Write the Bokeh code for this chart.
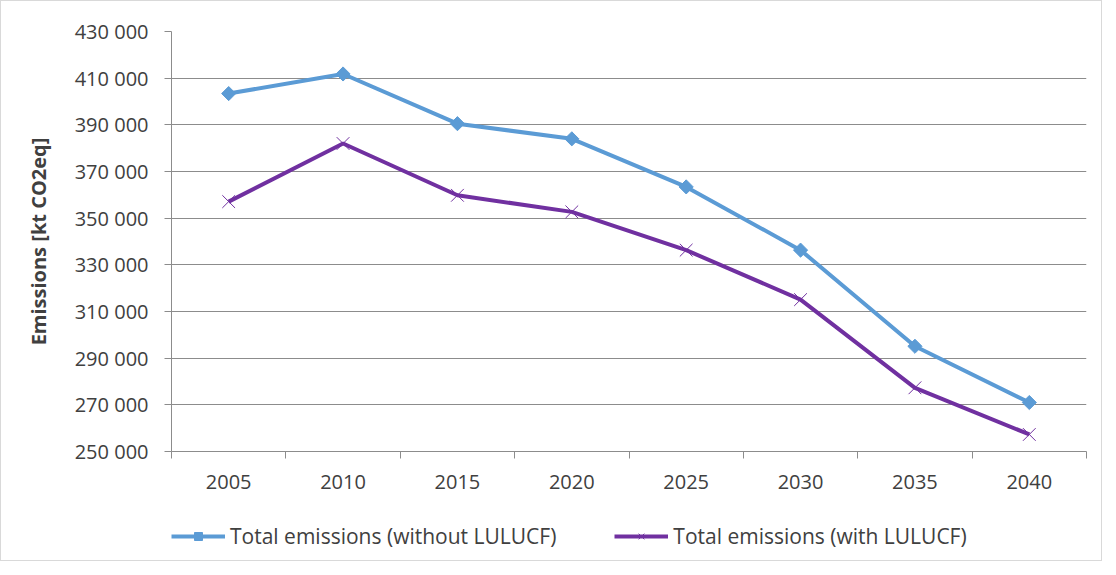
from bokeh.plotting import figure
from bokeh.layouts import column
from bokeh.models import Range1d, FixedTicker, Legend, LegendItem
from bokeh.embed import file_html
from bokeh.resources import INLINE
import math

years = [2005, 2010, 2015, 2020, 2025, 2030, 2035, 2040]
without_lulucf = [403400, 411800, 390500, 384000, 363400, 336300, 295100, 271000]
with_lulucf = [357100, 382000, 359800, 352700, 336300, 315100, 277300, 257300]
y_ticks = [250000, 270000, 290000, 310000, 330000, 350000, 370000, 390000, 410000, 430000]
y_tick_labels = ["250 000", "270 000", "290 000", "310 000", "330 000",
                 "350 000", "370 000", "390 000", "410 000", "430 000"]
series_names = ["Total emissions (without LULUCF)", "Total emissions (with LULUCF)"]
y_title = "Emissions [kt CO2eq]"

BLUE = "#5B9BD5"
PURPLE = "#7030A0"
GRID = "#8c8c8c"
TEXT = "#404040"
FONT = "Open Sans"

p = figure(width=1100, height=500, output_backend="svg", toolbar_location=None,
           x_range=Range1d(2002.5, 2042.5), y_range=Range1d(250000, 430000),
           min_border_left=170, min_border_right=15, min_border_top=30, min_border_bottom=50)
p.outline_line_color = None
p.background_fill_color = "white"
p.border_fill_color = "white"

# axes
xa = p.xaxis[0]
xa.ticker = FixedTicker(ticks=years, minor_ticks=[y - 2.5 for y in years] + [years[-1] + 2.5])
xa.major_label_overrides = {y: str(y) for y in years}
xa.major_tick_out = 0
xa.major_tick_in = 0
xa.minor_tick_out = 7
xa.minor_tick_in = 0
xa.minor_tick_line_color = GRID
xa.axis_line_color = GRID
xa.major_label_text_font = FONT
xa.major_label_text_font_size = "20px"
xa.major_label_text_color = TEXT
xa.major_label_standoff = 16

ya = p.yaxis[0]
ya.ticker = FixedTicker(ticks=y_ticks)
ya.major_label_overrides = {t: l for t, l in zip(y_ticks, y_tick_labels)}
ya.major_tick_out = 7
ya.major_tick_in = 0
ya.major_tick_line_color = GRID
ya.minor_tick_line_color = None
ya.axis_line_color = GRID
ya.major_label_text_font = FONT
ya.major_label_text_font_size = "20px"
ya.major_label_text_color = TEXT
ya.major_label_standoff = 16
ya.axis_label = y_title
ya.axis_label_text_font = FONT
ya.axis_label_text_font_size = "20px"
ya.axis_label_text_font_style = "bold"
ya.axis_label_text_color = TEXT
ya.axis_label_standoff = 20

p.xgrid.grid_line_color = None
p.ygrid.grid_line_color = GRID
p.ygrid.grid_line_width = 1

# series
p.line(years, without_lulucf, line_color=BLUE, line_width=4)
p.scatter(years, without_lulucf, marker="square", angle=math.pi / 4, size=10,
          fill_color=BLUE, line_color=BLUE)
p.line(years, with_lulucf, line_color=PURPLE, line_width=4)
p.scatter(years, with_lulucf, marker="x", size=18, line_color=PURPLE, line_width=1)

# legend strip (separate figure so the legend can sit below the axis labels)
lg = figure(width=1100, height=59, output_backend="svg", toolbar_location=None,
            x_range=Range1d(0, 1), y_range=Range1d(0, 1),
            x_axis_location=None, y_axis_location=None,
            min_border_left=0, min_border_right=0, min_border_top=0, min_border_bottom=0)
lg.outline_line_color = None
lg.grid.visible = False
lg.background_fill_color = "white"
lg.border_fill_color = "white"
# legend glyph renderers (their data lies outside this strip's ranges, so only the legend keys show)
k1l = lg.line(years, without_lulucf, line_color=BLUE, line_width=4)
k1m = lg.scatter(years, without_lulucf, marker="square", angle=math.pi / 4, size=10,
                 fill_color=BLUE, line_color=BLUE)
k2l = lg.line(years, with_lulucf, line_color=PURPLE, line_width=4)
k2m = lg.scatter(years, with_lulucf, marker="x", size=18, line_color=PURPLE, line_width=1)

legend = Legend(items=[LegendItem(label=series_names[0], renderers=[k1l, k1m]),
                       LegendItem(label=series_names[1], renderers=[k2l, k2m])],
                orientation="horizontal", location=(0, 10),
                glyph_width=54, glyph_height=20, label_height=20,
                label_standoff=5, spacing=58,
                padding=0, margin=0, border_line_color=None,
                background_fill_alpha=0,
                label_text_font=FONT, label_text_font_size="21px", label_text_color=TEXT)
lg.add_layout(legend, "center")

layout = column(p, lg, spacing=0, styles={"border": "1px solid #d9d9d9"})

open("out.html", "w").write(file_html(layout, INLINE))
